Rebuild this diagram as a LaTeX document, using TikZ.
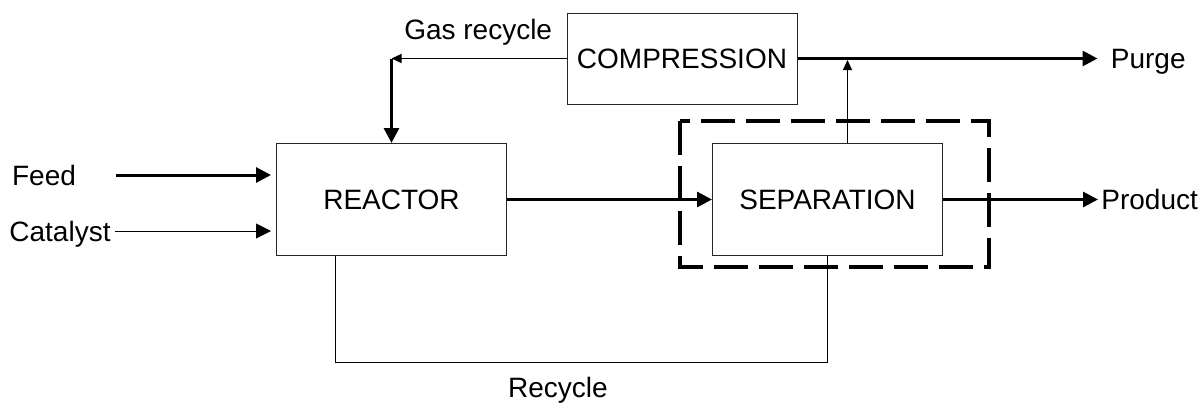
\documentclass[tikz,border=0pt]{standalone}
\usepackage{fontspec}
\setmainfont{Liberation Sans}
\usepackage{tikz}
\usetikzlibrary{arrows.meta, positioning}
\newcommand{\diagfont}{\fontsize{14pt}{17pt}\selectfont}
\tikzset{
  unit/.style={rectangle, draw=black!85, line width=0.5pt,
    minimum width=115pt, minimum height=56pt, inner sep=0pt, font=\diagfont},
  lbl/.style={inner sep=0pt, text depth=0pt, font=\diagfont},
  flow/.style={-{Triangle[length=7.5pt, width=7.5pt]}, line width=1.5pt},
  thinflow/.style={-{Triangle[length=7.5pt, width=7.5pt]}, line width=0.5pt},
  smallflow/.style={-{Triangle[length=5pt, width=4.5pt]}, line width=0.5pt},
  line/.style={line width=0.5pt},
  groupbox/.style={line width=2pt, dash pattern=on 17pt off 5.5pt}
}

\begin{document}
\begin{tikzpicture}
  \useasboundingbox (0,0) rectangle (600.5pt,201.5pt);

  \node[unit] (reactor) at (195.75pt,101.75pt) {REACTOR};
  \node[unit, right=102.5pt of reactor] (separation) {SEPARATION};
  \node[unit, minimum height=45.5pt] (compression) at (341pt,172.25pt) {COMPRESSION};

  \node[lbl] (feed) at (22pt,114pt) {Feed};
  \node[lbl] (catalyst) at (30pt,86pt) {Catalyst};
  \node[lbl, right=79pt of separation] (product) {Product};
  \node[lbl, right=156.5pt of compression] (purge) {Purge};
  \node[lbl, anchor=base east] (gaslabel) at ([xshift=-7pt,yshift=9.75pt]compression.west) {Gas recycle};
  \node[lbl, anchor=base] (recyclelabel) at (279pt,3pt) {Recycle};

  % separation section
  \draw[groupbox] ([xshift=-16pt,yshift=11pt]separation.north west) rectangle ([xshift=23pt,yshift=-5.5pt]separation.south east);

  \draw[flow, shorten >=2.5pt] ([xshift=20pt]feed.east) -- (feed.east -| reactor.west);
  \draw[thinflow, shorten >=2.5pt] ([xshift=2pt]catalyst.east) -- (catalyst.east -| reactor.west);
  \draw[flow] (reactor) -- (separation);
  \draw[flow, shorten >=1.5pt] (separation) -- (product);
  \draw[flow, shorten >=6.5pt] (compression) -- (purge);

  % gas recycle loop
  \coordinate (gasturn) at (compression.west -| reactor.north);
  \draw[smallflow] (compression.west) -- (gasturn);
  \draw[flow] (gasturn) -- (reactor.north);

  \coordinate (bleed) at ([xshift=10pt]separation.north);
  \draw[smallflow, shorten >=0.75pt] (bleed) -- (bleed |- compression.east);

  % liquid recycle
  \draw[line] ([xshift=-28.25pt]reactor.south) -- ++(0,-53pt) -| (separation.south);
\end{tikzpicture}
\end{document}
